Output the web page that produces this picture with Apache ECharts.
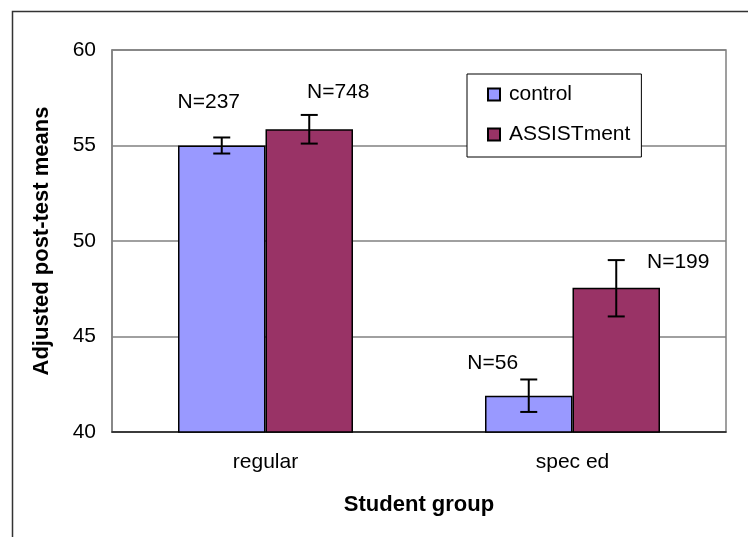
<!DOCTYPE html>
<html>
<head>
<meta charset="utf-8">
<script src="https://cdn.jsdelivr.net/npm/echarts@6/dist/echarts.min.js"></script>
<style>html,body{margin:0;padding:0;background:#fff}#c{width:748px;height:537px}</style>
</head>
<body>
<div id="c"></div>
<script>
var categories = ['regular', 'spec ed'];
var seriesNames = ['control', 'ASSISTment'];
var controlMeans = [55.0, 41.9];
var assistMeans = [55.85, 47.55];
var controlLow = [54.58, 41.05];
var controlHigh = [55.42, 42.75];
var assistLow = [55.1, 46.05];
var assistHigh = [56.6, 49.0];
var controlN = ['N=237', 'N=56'];
var assistN = ['N=748', 'N=199'];
var yTicks = {min: 40, max: 60, interval: 5};

// label offsets (layout only) relative to error bar top
var controlLabelOffset = [[-13, -35], [-36, -16]];
var assistLabelOffset = [[29, -23], [62, 2]];

var colors = ['#9999FF', '#993366'];
var FONT = 'Liberation Sans, Arial, sans-serif';

function errSeries(low, high, labels, offsets, sign) {
  var data = low.map(function (l, i) { return [i, l, high[i]]; });
  return {
    type: 'custom',
    silent: true,
    z: 10,
    data: data,
    renderItem: function (params, api) {
      var i = api.value(0);
      var band = api.size([1, 0])[0];
      var dx = sign * band * 0.57 / 4;
      var pLow = api.coord([i, api.value(1)]);
      var pHigh = api.coord([i, api.value(2)]);
      var x = pLow[0] + dx;
      var cap = 8.5;
      var st = {stroke: '#000', lineWidth: 2};
      var off = offsets[params.dataIndex];
      return {
        type: 'group',
        children: [
          {type: 'line', shape: {x1: x, y1: pLow[1], x2: x, y2: pHigh[1]}, style: st},
          {type: 'line', shape: {x1: x - cap, y1: pLow[1], x2: x + cap, y2: pLow[1]}, style: st},
          {type: 'line', shape: {x1: x - cap, y1: pHigh[1], x2: x + cap, y2: pHigh[1]}, style: st},
          {type: 'text', x: x + off[0], y: pHigh[1] + off[1],
           style: {text: labels[params.dataIndex], fill: '#000', font: '21px ' + FONT,
                   align: 'center', verticalAlign: 'middle'}}
        ]
      };
    }
  };
}

var chart = echarts.init(document.getElementById('c'), null, {renderer: 'canvas'});
chart.setOption({
  animation: false,
  backgroundColor: '#fff',
  textStyle: {fontFamily: FONT},
  graphic: [{
    type: 'rect', left: 10, top: 9, shape: {width: 900, height: 700},
    style: {fill: 'none', stroke: '#333', lineWidth: 1.5}, silent: true
  }],
  grid: {left: 112, right: 22, top: 50, bottom: 105, show: true, borderColor: '#808080', borderWidth: 1.5},
  legend: {
    orient: 'vertical', left: 467, top: 74,
    data: seriesNames,
    itemWidth: 12, itemHeight: 12, itemGap: 19,
    padding: [10, 11, 12, 20],
    borderColor: '#000', borderWidth: 1, backgroundColor: '#fff',
    textStyle: {fontSize: 21, color: '#000', fontFamily: FONT, padding: [0, 0, 0, 4]},
    icon: 'rect'
  },
  xAxis: {
    type: 'category', data: categories,
    name: 'Student group', nameLocation: 'middle', nameGap: 62,
    nameTextStyle: {fontSize: 22, fontWeight: 'bold', color: '#000', fontFamily: FONT},
    axisLine: {lineStyle: {color: '#222', width: 1.5}},
    axisTick: {show: false},
    axisLabel: {fontSize: 21, color: '#000', margin: 20, fontFamily: FONT}
  },
  yAxis: {
    type: 'value', min: yTicks.min, max: yTicks.max, interval: yTicks.interval,
    name: 'Adjusted post-test means', nameLocation: 'middle', nameGap: 59,
    nameTextStyle: {fontSize: 22, fontWeight: 'bold', color: '#000', fontFamily: FONT},
    axisLine: {show: true, lineStyle: {color: '#808080', width: 1.5}},
    axisTick: {show: false},
    axisLabel: {fontSize: 21, color: '#000', margin: 16, fontFamily: FONT},
    splitLine: {lineStyle: {color: '#808080', width: 1.5}}
  },
  series: [
    {name: seriesNames[0], type: 'bar', data: controlMeans, barGap: '0%', barCategoryGap: '43%',
     itemStyle: {color: colors[0], borderColor: '#000', borderWidth: 1.5}},
    {name: seriesNames[1], type: 'bar', data: assistMeans, barGap: '0%', barCategoryGap: '43%',
     itemStyle: {color: colors[1], borderColor: '#000', borderWidth: 1.5}},
    errSeries(controlLow, controlHigh, controlN, controlLabelOffset, -1),
    errSeries(assistLow, assistHigh, assistN, assistLabelOffset, 1)
  ]
});
</script>
</body>
</html>
